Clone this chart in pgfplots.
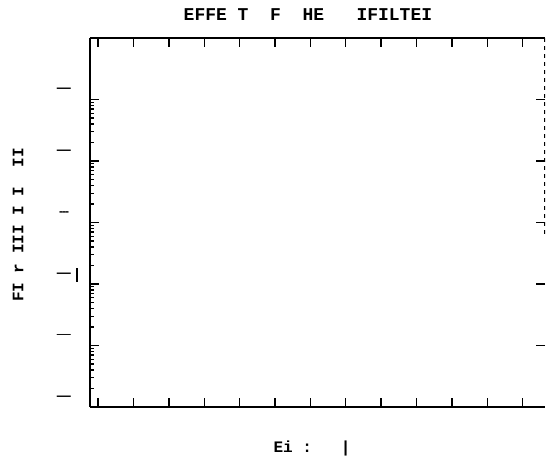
\documentclass[border=0pt]{standalone}
\usepackage{fontspec}
\setmainfont{Liberation Mono}
\newfontfamily\dashfont{Liberation Sans}
\usepackage{pgfplots}
\pgfplotsset{compat=1.18}
% one empty character cell of the mono font
\newcommand\s{\phantom{X}}
\newcommand\dsh{{\dashfont\bfseries\fontsize{14}{14}\selectfont —}}
\newcommand\thindsh{{\dashfont\fontsize{14}{14}\selectfont —}}
\newcommand\tridsh{{\dashfont\bfseries\fontsize{12}{12}\selectfont -\kern-1pt-\kern-1pt-}}

\begin{document}
\begin{tikzpicture}
\path[use as bounding box] (-90pt,-50pt) rectangle (456pt,407pt);
% left and bottom frame, with ticks and labels
\begin{axis}[
  at={(0pt,0pt)}, anchor=south west,
  scale only axis, width=455pt, height=369pt,
  xmode=log, ymode=log,
  xmin=0.3, xmax=5.8, ymin=1, ymax=1e6,
  axis x line*=bottom, axis y line*=left,
  axis line style={line width=1.6pt, -},
  tick align=inside,
  major tick length=9pt, minor tick length=4pt,
  every major tick/.append style={line width=1.4pt, black},
  every minor tick/.append style={line width=1.1pt, black},
  xticklabels={}, 
  ytick={1,10,100,1000,10000,100000},
  yticklabels={\dsh, \thindsh, \dsh\rlap{\kern5pt\rule[-4pt]{1.6pt}{14pt}}, \tridsh, \dsh, \dsh},
  yticklabel style={anchor=center, xshift=-26pt, yshift=9pt},
  title={\textbf{EFFE\s T\s\s F\s\s HE\s\s\s IFILTEI}},
  title style={at={(axis description cs:0.479,1)}, anchor=center, yshift=17pt,
    font=\fontsize{18}{18}\selectfont},
  xlabel={\textbf{Ei\s:\s\s\s|}},
  xlabel style={at={(axis description cs:0.488,0)}, anchor=center, yshift=-41pt,
    font=\fontsize{16}{16}\selectfont},
  ylabel={\textbf{FI\s r\s III\s I\s I\s\s II}},
  ylabel style={at={(axis description cs:-0.158,0.493)}, anchor=center,
    font=\fontsize{16}{16}\selectfont},
]
\end{axis}
% top and right frame: top ticks, major ticks only on the right
\begin{axis}[
  at={(0pt,0pt)}, anchor=south west,
  scale only axis, width=455pt, height=369pt,
  xmode=log, ymode=log,
  xmin=0.3, xmax=5.8, ymin=1, ymax=1e6,
  axis x line*=top, axis y line*=right,
  x axis line style={line width=1.6pt, -},
  y axis line style={draw=none},
  tick align=inside,
  major tick length=9pt, minor tick length=4pt,
  every major tick/.append style={line width=1.4pt, black},
  every minor tick/.append style={line width=1.1pt, black},
  yminorticks=false,
  ytick={10,100,1000,10000,100000},
  xticklabels={}, yticklabels={},
]
\draw[dash pattern=on 4pt off 4pt, line width=1.3pt] (axis cs:5.8,1e6) -- (axis cs:5.8,600);
\end{axis}
\end{tikzpicture}
\end{document}
